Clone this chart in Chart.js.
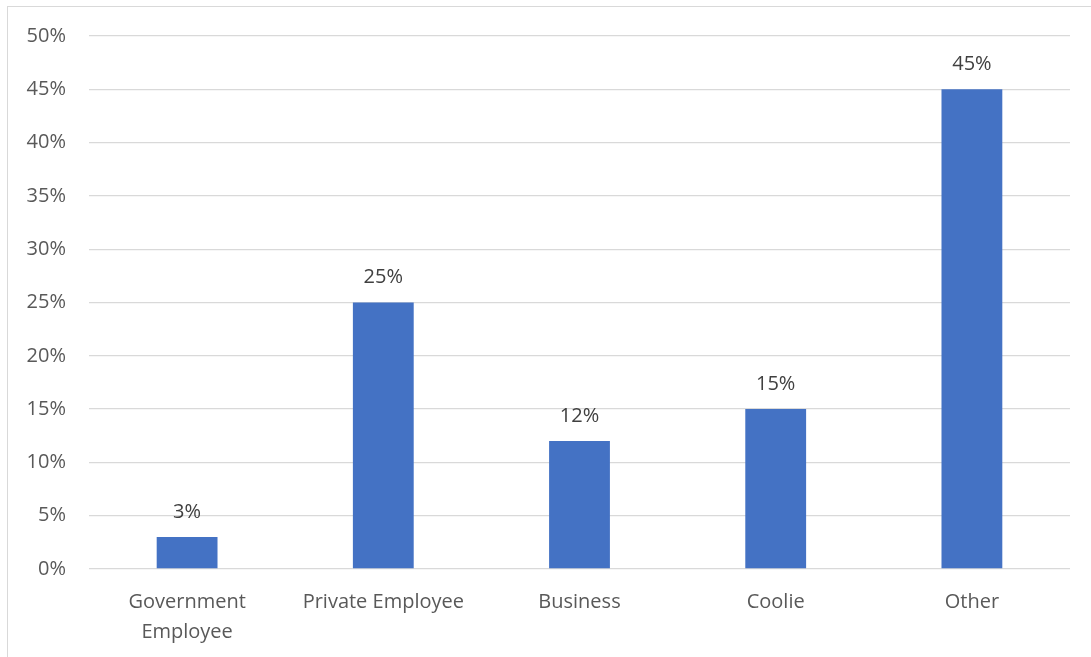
<!DOCTYPE html>
<html>
<head>
<meta charset="utf-8">
<script src="https://cdn.jsdelivr.net/npm/chart.js@4"></script>
<style>
  html, body { margin: 0; padding: 0; background: #fff; }
  #frame {
    position: absolute; left: 7px; top: 6px; width: 1100px; height: 700px;
    border: 1.5px solid #d9d9d9; box-sizing: border-box;
  }
  #wrap { position: absolute; left: 0; top: 0; width: 1091px; height: 657px; }
</style>
</head>
<body>
<div id="frame"></div>
<div id="wrap"><canvas id="c" width="1091" height="657"></canvas></div>
<script>
const categories = [['Government', 'Employee'], 'Private Employee', 'Business', 'Coolie', 'Other'];
const shares = [3, 25, 12, 15, 45];
const yTicks = [0, 5, 10, 15, 20, 25, 30, 35, 40, 45, 50];

const FONT = '"Open Sans", "Noto Sans", sans-serif';

// Writes each bar's value as a percentage just above the bar
const valueLabels = {
  id: 'valueLabels',
  afterDatasetsDraw(chart) {
    const ctx = chart.ctx;
    const meta = chart.getDatasetMeta(0);
    ctx.save();
    ctx.font = '20px ' + FONT;
    ctx.fillStyle = '#404040';
    ctx.textAlign = 'center';
    ctx.textBaseline = 'middle';
    meta.data.forEach((bar, i) => {
      ctx.fillText(shares[i] + '%', bar.x, bar.y - 25);
    });
    ctx.restore();
  }
};

new Chart(document.getElementById('c'), {
  type: 'bar',
  data: {
    labels: categories,
    datasets: [{
      data: shares,
      backgroundColor: '#4472C4',
      categoryPercentage: 1,
      barPercentage: 0.31
    }]
  },
  options: {
    responsive: false,
    animation: false,
    layout: { padding: { top: 36, right: 21, left: 0, bottom: 0 } },
    plugins: { legend: { display: false }, tooltip: { enabled: false } },
    scales: {
      x: {
        grid: { display: false },
        border: { display: false },
        ticks: {
          color: '#595959',
          font: { family: FONT, size: 20, lineHeight: 1.5 },
          padding: 10,
          maxRotation: 0
        },
        afterFit(scale) { scale.height = 88; }
      },
      y: {
        min: 0,
        max: 50,
        afterBuildTicks(scale) { scale.ticks = yTicks.map(v => ({ value: v })); },
        grid: { color: '#d9d9d9', lineWidth: 1.3, drawTicks: false },
        border: { display: false },
        ticks: {
          color: '#595959',
          font: { family: FONT, size: 20 },
          padding: 23,
          callback: v => v + '%'
        },
        afterFit(scale) { scale.width = 89; }
      }
    }
  },
  plugins: [valueLabels]
});
</script>
</body>
</html>
